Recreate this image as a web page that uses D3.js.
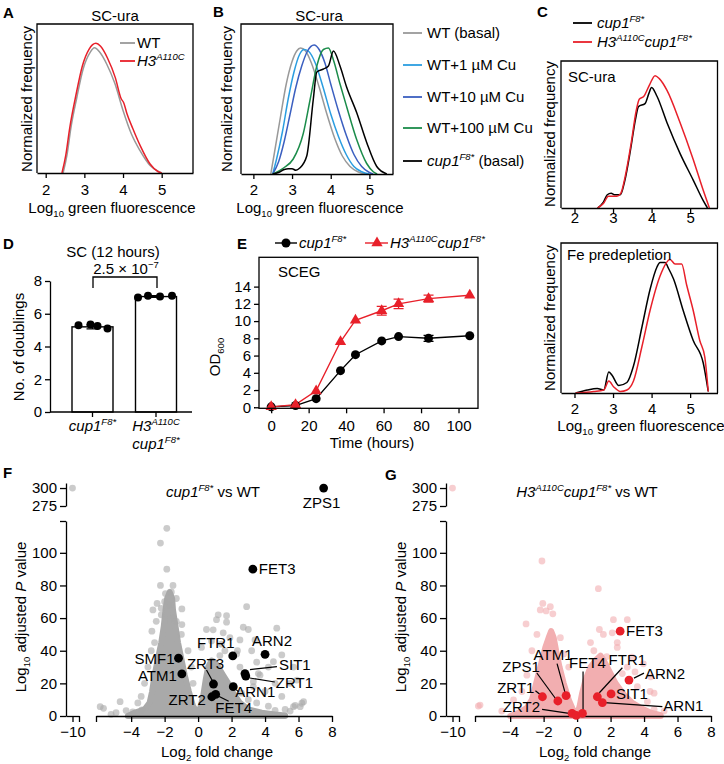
<!DOCTYPE html>
<html><head><meta charset="utf-8">
<script src="https://cdn.jsdelivr.net/npm/d3@7"></script>
<style>body{margin:0;background:#fff}svg text{font-family:"Liberation Sans",Arial,Helvetica,sans-serif}</style>
</head><body><svg id="c" width="724" height="764"></svg>
<script>
// ================= DATA =================
const fluorTicks = [2, 3, 4, 5];
// Panel A: [log10 fluorescence, normalized frequency]
const A_WT = [[2.45,0],[2.55,0.12],[2.65,0.3],[2.8,0.5],[2.97,0.7],[3.15,0.81],[3.26,0.84],[3.4,0.81],[3.58,0.73],[3.79,0.6],[4.0,0.42],[4.22,0.26],[4.44,0.15],[4.7,0.05],[4.96,0.005],[5.0,0]];
const A_H3 = [[2.42,0],[2.52,0.12],[2.62,0.3],[2.78,0.52],[2.95,0.72],[3.12,0.83],[3.3,0.87],[3.42,0.85],[3.6,0.77],[3.8,0.64],[3.95,0.5],[4.02,0.47],[4.1,0.4],[4.25,0.3],[4.45,0.18],[4.7,0.06],[4.9,0.01],[5.0,0]];
// Panel B
const B_labels = ["WT (basal)", "WT+1 µM Cu", "WT+10 µM Cu", "WT+100 µM Cu", "cup1F8* (basal)"];
const B_WT = [[2.45,0],[2.55,0.15],[2.7,0.38],[2.85,0.6],[3.0,0.75],[3.12,0.82],[3.22,0.84],[3.35,0.82],[3.5,0.74],[3.7,0.58],[3.9,0.4],[4.1,0.24],[4.3,0.12],[4.5,0.05],[4.7,0.015],[4.9,0]];
const B_1uM = [[2.5,0],[2.6,0.1],[2.75,0.28],[2.9,0.5],[3.05,0.68],[3.2,0.8],[3.31,0.83],[3.42,0.82],[3.6,0.74],[3.8,0.58],[4.0,0.4],[4.2,0.25],[4.4,0.13],[4.6,0.05],[4.8,0.015],[5.0,0]];
const B_10uM = [[2.5,0],[2.65,0.08],[2.8,0.22],[2.95,0.4],[3.1,0.58],[3.25,0.72],[3.4,0.82],[3.57,0.86],[3.7,0.83],[3.85,0.74],[4.0,0.6],[4.2,0.42],[4.4,0.26],[4.6,0.13],[4.8,0.05],[5.0,0.01],[5.1,0]];
const B_100uM = [[2.5,0],[2.78,0.04],[3.03,0.1],[3.29,0.27],[3.47,0.5],[3.64,0.72],[3.81,0.83],[3.94,0.84],[4.07,0.76],[4.24,0.6],[4.41,0.45],[4.67,0.23],[4.93,0.07],[5.1,0.015],[5.2,0]];
const B_cup1 = [[2.5,0],[2.65,0.01],[2.8,0.03],[2.9,0.035],[3.0,0.035],[3.1,0.025],[3.2,0.04],[3.38,0.12],[3.55,0.5],[3.64,0.68],[3.81,0.7],[3.94,0.72],[4.07,0.82],[4.24,0.72],[4.41,0.58],[4.67,0.41],[4.93,0.21],[5.19,0.05],[5.45,0]];
// Panel C
const C_top_cup1 = [[2.6,0],[2.75,0.04],[2.85,0.09],[2.95,0.1],[3.05,0.09],[3.19,0.09],[3.3,0.18],[3.45,0.39],[3.58,0.6],[3.66,0.69],[3.83,0.71],[3.93,0.78],[4.0,0.82],[4.14,0.76],[4.4,0.58],[4.74,0.37],[5.08,0.19],[5.34,0.05],[5.45,0]];
const C_top_h3 = [[2.6,0],[2.75,0.03],[2.88,0.08],[2.97,0.08],[3.1,0.08],[3.2,0.1],[3.32,0.22],[3.47,0.44],[3.6,0.66],[3.68,0.74],[3.8,0.76],[3.95,0.84],[4.09,0.9],[4.2,0.88],[4.4,0.8],[4.74,0.58],[5.08,0.33],[5.34,0.12],[5.5,0]];
const C_bot_cup1 = [[2.03,0],[2.33,0.02],[2.59,0.03],[2.76,0.02],[2.89,0.14],[2.97,0.12],[3.15,0.05],[3.36,0.07],[3.53,0.18],[3.75,0.44],[3.96,0.69],[4.14,0.84],[4.22,0.87],[4.35,0.87],[4.44,0.83],[4.57,0.76],[4.82,0.55],[5.08,0.35],[5.34,0.2],[5.47,0.01]];
const C_bot_h3 = [[2.03,0],[2.5,0.01],[2.76,0.02],[2.89,0.08],[3.02,0.04],[3.19,0.01],[3.36,0.02],[3.53,0.08],[3.75,0.31],[3.96,0.55],[4.22,0.78],[4.48,0.89],[4.61,0.86],[4.78,0.86],[4.91,0.72],[5.08,0.55],[5.25,0.35],[5.38,0.24],[5.47,0.01]];
// Panel D
const D_categories = ["cup1", "H3cup1"];
const D_means = [5.2, 7.05];
const D_sd = [0.12, 0.05];
const D_reps = [[5.3, 5.35, 5.25, 5.1], [7.0, 7.1, 7.05, 7.1]];
const D_yTicks = [0, 2, 4, 6, 8];
// Panel E
const E_time = [0, 13, 24, 37, 45, 59, 68, 84, 106];
const E_cup1 = [0.05, 0.2, 1.0, 4.25, 6.1, 7.7, 8.2, 8.0, 8.3];
const E_cup1_err = [0.05, 0.05, 0.1, 0.15, 0.1, 0.1, 0.1, 0.35, 0.1];
const E_h3 = [0.05, 0.3, 1.9, 7.6, 10.1, 11.2, 12.0, 12.6, 13.0];
const E_h3_err = [0.05, 0.05, 0.1, 0.15, 0.15, 0.5, 0.55, 0.4, 0.15];
const E_xTicks = [0, 20, 40, 60, 80, 100];
const E_yTicks = [0, 2, 4, 6, 8, 10, 12, 14];
// Panels F & G: volcano (log2 fold change, -log10 adj P)
const volcano_xTicks = [-4, -2, 0, 2, 4, 6, 8];
const volcano_yTicks = [0, 20, 40, 60, 80, 100];
const F_core = [[-4.2,0],[-3.8,2],[-3.2,4],[-2.9,8],[-2.75,15],[-2.6,25],[-2.4,35],[-2.2,45],[-2.05,55],[-1.95,65],[-1.85,72],[-1.7,76],[-1.55,72],[-1.5,65],[-1.35,55],[-1.2,45],[-1.0,35],[-0.8,25],[-0.55,15],[-0.3,6],[-0.05,2],[0.1,4],[0.3,12],[0.45,22],[0.6,30],[0.8,34],[1.0,33],[1.2,30],[1.5,25],[1.8,20],[2.1,14],[2.5,8],[3.0,4],[3.8,2],[4.6,1],[5.2,0.3],[5.2,0]];
const F_points = [[-1.87,115],[-2.25,106],[-1.87,90],[-2.25,80],[-1.5,80],[-1.95,75],[-1.6,76],[-2.45,69],[-1.7,68],[-2.0,70],[-1.3,72],[-2.2,66],[-2.7,65],[-0.97,65.6],[-2.2,62],[-1.5,60],[-2.5,58],[-1.3,58],[-0.97,56],[-2.76,52],[-1.0,50],[-2.6,45],[-2.8,40],[-0.6,40],[-3.0,30],[-0.4,30],[-3.2,20],[-0.3,20],[-3.4,12],[-3.6,8],[-5.85,5.7],[-5.65,4.7],[-4.66,8.8],[-4.3,3.3],[-3.36,3.7],[-4.9,2],[-3.9,2.5],[-5.2,1],[2.9,67],[1.1,59],[1.7,57.5],[1.7,61.5],[1.2,62],[2.7,54.4],[3.0,53],[4.7,53.8],[0.9,52.8],[0.5,53],[1.5,51],[2.5,46.6],[3.4,46.6],[1.9,48],[0.8,46],[1.4,44],[2.35,40],[0.2,42],[1.3,37],[1.6,40],[3.2,40],[4.5,33.3],[5.0,37.4],[4.2,30],[3.5,33],[5.7,30],[3.6,26],[5.9,22],[5.5,20],[3.3,21],[3.7,25],[2.5,30],[2.3,38],[4.6,20],[3.3,18],[4.0,15],[5.0,12],[6.1,5.7],[5.8,6.5],[5.7,5.7],[6.2,7.8],[6.3,8.8],[5.2,4],[4.6,3.5],[5.5,3],[3.0,10],[2.6,14],[3.5,8],[4.2,6],[-10,300]];
const F_genes = [["ZPS1",7.5,300],["FET3",3.27,90],["ARN2",4.0,37.8],["FTR1",2.07,36.8],["SIT1",2.8,26],["ZRT1",2.85,24.5],["ARN1",2.1,18],["ZRT3",0.92,19.6],["FET4",1.05,13.3],["ZRT2",0.82,11.8],["SMF1",-1.17,35.4],["ATM1",-0.97,25.8]];
const G_core = [[-4.0,0],[-3.5,2],[-3.0,5],[-2.7,10],[-2.5,18],[-2.3,26],[-2.1,34],[-1.9,42],[-1.7,48],[-1.55,52],[-1.4,48],[-1.25,40],[-1.05,30],[-0.8,20],[-0.5,10],[-0.25,4],[0.0,1],[0.15,6],[0.3,14],[0.5,22],[0.8,30],[1.1,34],[1.4,37],[1.6,34],[1.9,28],[2.3,20],[2.8,13],[3.3,8],[3.8,5],[4.4,2],[5.0,0.5],[5.0,0]];
const G_points = [[-2.1,95],[-2.05,69],[-1.6,67],[-2.2,65],[-1.85,64.4],[-1.45,62.6],[-3.05,56.4],[-2.4,50],[-1.0,48],[-2.7,40],[-0.8,38],[-3.0,25],[-3.3,15],[-3.8,9.8],[-5.8,6.7],[-5.9,6.1],[-4.5,3],[-0.5,30],[1.27,78],[2.17,59],[3.0,59],[1.57,50],[1.33,53],[2.1,51],[0.8,45],[1.77,36.4],[2.4,42],[3.27,36],[3.46,27],[3.96,32],[4.4,24],[4.36,15],[4.6,14],[4.2,8.8],[4.6,4],[3.0,30],[2.7,26],[3.6,18],[5.2,3],[2.4,45],[1.0,40],[-10,300]];
const G_genes = [["ZRT1",-2.07,11.8],["ZPS1",-1.15,9.2],["ATM1",-0.66,12.5],["ZRT2",-0.3,1.6],["",-0.05,0.4],["FET4",0.32,1.6],["FTR1",1.21,11.8],["SIT1",2.03,13.5],["ARN2",3.1,22],["ARN1",1.51,8.2],["FET3",2.57,52]];

// ================= LAYOUT (label placement, px offsets from dot) =================
const F_lbl = {ZPS1:{dx:-2,dy:20,a:"middle"},FET3:{dx:6,dy:5,a:"start"},ARN2:{dx:7,dy:-8,a:"middle"},FTR1:{dx:-17,dy:-8,a:"middle"},
  SIT1:{dx:34,dy:-4,a:"start",l:[5,-4,32,-7]},ZRT1:{dx:30,dy:12,a:"start",l:[4,2,29,6]},ARN1:{dx:2,dy:10,a:"start",l:[3,3,5,5]},
  ZRT3:{dx:-8,dy:-15,a:"middle",l:[-7,-14,-1,-3]},FET4:{dx:18,dy:19,a:"middle",l:[1,1,13,7]},ZRT2:{dx:-6,dy:8,a:"end"},
  SMF1:{dx:-4,dy:6,a:"end"},ATM1:{dx:-5,dy:7,a:"end"}};
const G_lbl = {ZRT1:{dx:-8,dy:-4,a:"end",l:[-7,-6,-2,-2]},ZPS1:{dx:-18,dy:-29,a:"end",l:[-21,-28,-2,-2]},ATM1:{dx:-13,dy:-36,a:"middle",l:[-9,-32,-1,-3]},
  ZRT2:{dx:-32,dy:-1,a:"end",l:[-30,-4,-3,0]},FET4:{dx:5,dy:-45,a:"middle",l:[0.6,-42,0.6,-3]},FTR1:{dx:30,dy:-32,a:"middle",l:[25,-29,2,-4]},
  SIT1:{dx:5,dy:5,a:"start"},ARN2:{dx:16,dy:-1,a:"start",l:[5,-2,15,-7]},ARN1:{dx:61,dy:8,a:"start",l:[2,0,60,4]},FET3:{dx:6,dy:5,a:"start"}};

// ================= DRAWING =================
const svg = d3.select("#c");
const FS = 15;
const RED = "#e8202a";

function rich(g, x, y, parts, o = {}) {
  const t = g.append("text").attr("x", x).attr("y", y).attr("font-size", o.size || FS)
    .attr("text-anchor", o.anchor || "start").attr("fill", o.fill || "#000");
  if (o.transform) t.attr("transform", o.transform);
  if (o.bold) t.attr("font-weight", "bold");
  let cur = 0;
  parts.forEach(p => {
    if (typeof p === "string") p = {t: p};
    const shift = p.sup ? -6 : (p.sub ? 4 : 0);
    const ts = t.append("tspan").text(p.t).attr("dy", shift - cur);
    cur = shift;
    if (p.sup || p.sub) ts.attr("font-size", p.fs || 9.5);
    if (p.it) ts.attr("font-style", "italic");
  });
  return t;
}
function vlabel(bx, cy, parts) {
  return rich(svg, 0, 0, parts, {anchor: "middle", transform: `translate(${bx},${cy}) rotate(-90)`});
}
function styleAxis(ax, keepDomain = true) {
  ax.select(".domain").attr("stroke", "#000").attr("stroke-width", 1.3);
  if (!keepDomain) ax.select(".domain").remove();
  ax.selectAll(".tick line").attr("stroke", "#000").attr("stroke-width", 1.3);
  ax.selectAll(".tick text").attr("font-size", FS).attr("fill", "#000").attr("font-family", null);
  ax.attr("font-family", null);
}
const cup1 = [{t: "cup1", it: true}, {t: "F8*", sup: true, it: true}];
const h3 = [{t: "H3", it: true}, {t: "A110C", sup: true, it: true}];
const logFluor = ["Log", {t: "10", sub: true}, " green fluorescence"];
const normFreq = ["Normalized frequency"];

// panel letters
[["A",3,18],["B",213,17],["C",537,17],["D",3,249],["E",237,249],["F",3,478],["G",385,480]].forEach(d =>
  svg.append("text").attr("x", d[1]).attr("y", d[2]).attr("font-size", 15).attr("font-weight", "bold").text(d[0]));

function hist(c) {
  const x = d3.scaleLinear().domain(c.xd).range([c.L, c.R]);
  const y = d3.scaleLinear().domain([0, 1]).range([c.B, c.T]);
  const line = d3.line().x(d => x(d[0])).y(d => y(d[1])).curve(d3.curveMonotoneX);
  c.series.forEach(s => svg.append("path").datum(s.d).attr("d", line).attr("fill", "none")
    .attr("stroke", s.c).attr("stroke-width", 1.5).attr("stroke-linejoin", "round"));
  svg.append("path").attr("d", `M${c.L},${c.B}V${c.T}H${c.R}V${c.B}`).attr("fill", "none")
    .attr("stroke", "#000").attr("stroke-width", 1.3);
  const ax = svg.append("g").attr("transform", `translate(0,${c.B})`)
    .call(d3.axisBottom(x).tickValues(fluorTicks).tickSize(5).tickSizeOuter(0).tickFormat(d3.format("d")));
  styleAxis(ax);
  ax.selectAll(".tick text").attr("y", c.lbl).attr("dy", 0);
  return {x, y};
}

// ---- Panel A ----
hist({L: 37, R: 193, T: 24, B: 173, xd: [1.775, 5.81], lbl: 22,
  series: [{d: A_WT, c: "#999"}, {d: A_H3, c: RED}]});
svg.append("text").attr("x", 115).attr("y", 21).attr("font-size", FS).attr("text-anchor", "middle").text("SC-ura");
vlabel(32, 99, normFreq);
rich(svg, 112, 213, logFluor, {anchor: "middle"});
svg.append("line").attr("x1", 120).attr("x2", 135).attr("y1", 43).attr("y2", 43).attr("stroke", "#999").attr("stroke-width", 1.8);
svg.append("line").attr("x1", 120).attr("x2", 135).attr("y1", 61).attr("y2", 61).attr("stroke", RED).attr("stroke-width", 1.8);
rich(svg, 137, 48, ["WT"]);
rich(svg, 137, 66, h3);

// ---- Panel B ----
const B_colors = ["#999", "#2b9de0", "#3b5fc0", "#1b8c4a", "#000"];
const B_data = [B_WT, B_1uM, B_10uM, B_100uM, B_cup1];
hist({L: 241, R: 393, T: 24, B: 174, xd: [1.68, 5.61], lbl: 21,
  series: B_data.map((d, i) => ({d, c: B_colors[i]}))});
svg.append("text").attr("x", 319).attr("y", 21).attr("font-size", FS).attr("text-anchor", "middle").text("SC-ura");
vlabel(232, 99, normFreq);
rich(svg, 320, 213, logFluor, {anchor: "middle"});
const B_rowY = [33, 65, 97, 128, 161];
B_labels.forEach((lab, i) => {
  svg.append("line").attr("x1", 403).attr("x2", 422).attr("y1", B_rowY[i]).attr("y2", B_rowY[i]).attr("stroke", B_colors[i]).attr("stroke-width", 1.8);
  const parts = i === 4 ? [...cup1, " (basal)"] : [lab];
  rich(svg, 427, B_rowY[i] + 5, parts);
});

// ---- Panel C ----
svg.append("line").attr("x1", 573).attr("x2", 592).attr("y1", 23).attr("y2", 23).attr("stroke", "#000").attr("stroke-width", 1.8);
svg.append("line").attr("x1", 573).attr("x2", 592).attr("y1", 42).attr("y2", 42).attr("stroke", RED).attr("stroke-width", 1.8);
rich(svg, 597, 28, cup1);
rich(svg, 597, 47, [...h3, ...cup1]);
hist({L: 561, R: 717.5, T: 61, B: 208, xd: [1.65, 5.71], lbl: 15,
  series: [{d: C_top_cup1, c: "#000"}, {d: C_top_h3, c: RED}]});
svg.append("text").attr("x", 568).attr("y", 82).attr("font-size", FS).text("SC-ura");
vlabel(555, 134, normFreq);
hist({L: 561, R: 717.5, T: 243, B: 393, xd: [1.65, 5.71], lbl: 21,
  series: [{d: C_bot_cup1, c: "#000"}, {d: C_bot_h3, c: RED}]});
svg.append("text").attr("x", 567).attr("y", 260).attr("font-size", FS).text("Fe predepletion");
vlabel(555, 318, normFreq);
rich(svg, 641, 431, logFluor, {anchor: "middle"});

// ---- Panel D ----
{
  const y = d3.scaleLinear().domain([0, 8]).range([412, 281]);
  const x = d3.scalePoint().domain(D_categories).range([92.5, 156]);
  const bw = 41;
  D_categories.forEach((c, i) => {
    svg.append("rect").attr("x", x(c) - bw / 2).attr("y", y(D_means[i])).attr("width", bw)
      .attr("height", y(0) - y(D_means[i])).attr("fill", "#fff").attr("stroke", "#000").attr("stroke-width", 1.4);
  });
  const jit = [[-14, -2, 5, 15], [-18, -8, 4, 16]];
  D_categories.forEach((c, i) => {
    D_reps[i].forEach((v, j) => svg.append("circle").attr("cx", x(c) + jit[i][j]).attr("cy", y(v)).attr("r", 4).attr("fill", "#000"));
    const lo = y(D_means[i] - D_sd[i]), hi = y(D_means[i] + D_sd[i]);
    svg.append("path").attr("d", `M${x(c)},${lo}V${hi}M${x(c) - 6},${lo}H${x(c) + 6}M${x(c) - 6},${hi}H${x(c) + 6}`)
      .attr("stroke", "#000").attr("stroke-width", 1.3).attr("fill", "none");
  });
  const ay = svg.append("g").attr("transform", "translate(50,0)")
    .call(d3.axisLeft(y).tickValues(D_yTicks).tickSize(5).tickSizeOuter(0));
  styleAxis(ay);
  svg.append("path").attr("d", `M50,412H192`).attr("stroke", "#000").attr("stroke-width", 1.3);
  D_categories.forEach(c => svg.append("line").attr("x1", x(c)).attr("x2", x(c)).attr("y1", 412).attr("y2", 417).attr("stroke", "#000").attr("stroke-width", 1.3));
  rich(svg, x("cup1"), 431, cup1, {anchor: "middle"});
  rich(svg, x("H3cup1"), 431, h3, {anchor: "middle"});
  rich(svg, x("H3cup1"), 449, cup1, {anchor: "middle"});
  svg.append("text").attr("x", 113).attr("y", 257).attr("font-size", FS).attr("text-anchor", "middle").text("SC (12 hours)");
  rich(svg, 126, 274, ["2.5 × 10", {t: "−7", sup: true}], {anchor: "middle"});
  svg.append("path").attr("d", "M93,288V277H157V288").attr("fill", "none").attr("stroke", "#000").attr("stroke-width", 1.3);
  vlabel(24, 347, ["No. of doublings"]);
}

// ---- Panel E ----
{
  const L = 259, R = 478, T = 257.3, B = 408.3;
  const x = d3.scaleLinear().domain([-6.5, 110.4]).range([L, R]);
  const y = d3.scaleLinear().domain([-0.12, 17.4]).range([B, T]);
  const line = d3.line().x(d => x(d[0])).y(d => y(d[1]));
  const blk = E_time.map((t, i) => [t, E_cup1[i], E_cup1_err[i]]);
  const red = E_time.map((t, i) => [t, E_h3[i], E_h3_err[i]]);
  [[blk, "#000"], [red, RED]].forEach(([d, col]) => {
    svg.append("path").datum(d).attr("d", line).attr("fill", "none").attr("stroke", col).attr("stroke-width", 1.4);
    d.forEach(p => {
      if (p[2] > 0.2) {
        const lo = y(p[1] - p[2]), hi = y(p[1] + p[2]), cx = x(p[0]);
        svg.append("path").attr("d", `M${cx},${lo}V${hi}M${cx - 5},${lo}H${cx + 5}M${cx - 5},${hi}H${cx + 5}`)
          .attr("stroke", col).attr("stroke-width", 1.3).attr("fill", "none");
      }
    });
  });
  blk.forEach(p => svg.append("circle").attr("cx", x(p[0])).attr("cy", y(p[1])).attr("r", 4.5).attr("fill", "#000"));
  const tri = d3.symbol().type(d3.symbolTriangle).size(55);
  red.forEach(p => svg.append("path").attr("d", tri()).attr("transform", `translate(${x(p[0])},${y(p[1])})`).attr("fill", RED));
  svg.append("rect").attr("x", L).attr("y", T).attr("width", R - L).attr("height", B - T).attr("fill", "none").attr("stroke", "#000").attr("stroke-width", 1.3);
  const ax = svg.append("g").attr("transform", `translate(0,${B})`).call(d3.axisBottom(x).tickValues(E_xTicks).tickSize(5));
  styleAxis(ax, false);
  ax.selectAll(".tick text").attr("y", 23).attr("dy", 0);
  const ay = svg.append("g").attr("transform", `translate(${L},0)`).call(d3.axisLeft(y).tickValues(E_yTicks).tickSize(5));
  styleAxis(ay, false);
  svg.append("text").attr("x", 278).attr("y", 277).attr("font-size", FS).text("SCEG");
  rich(svg, 372, 448, ["Time (hours)"], {anchor: "middle"});
  vlabel(220, 357, ["OD", {t: "600", sub: true}]);
  // legend
  svg.append("line").attr("x1", 275).attr("x2", 297).attr("y1", 243).attr("y2", 243).attr("stroke", "#000").attr("stroke-width", 1.4);
  svg.append("circle").attr("cx", 286).attr("cy", 243).attr("r", 4.5).attr("fill", "#000");
  rich(svg, 299, 248, cup1);
  svg.append("line").attr("x1", 365).attr("x2", 388).attr("y1", 243).attr("y2", 243).attr("stroke", RED).attr("stroke-width", 1.4);
  svg.append("path").attr("d", tri()).attr("transform", "translate(377,243)").attr("fill", RED);
  rich(svg, 390, 248, [...h3, ...cup1]);
}

// ---- Panels F & G ----
function volcano(c) {
  const ax0 = c.ax0;
  const xR = d3.scaleLinear().domain([-6.1, 8]).range([c.R0, c.R0 + 236]);
  const xL = d3.scaleLinear().domain([-10.9, -9.1]).range([ax0, ax0 + 13]);
  const yM = d3.scaleLinear().domain([0, 119.5]).range([716, 521]);
  const yT = d3.scaleLinear().domain([275, 307]).range([506, 483]);
  const px = d => d[0] < -8 ? xL(d[0]) : xR(d[0]);
  const py = d => d[1] > 200 ? yT(d[1]) : yM(d[1]);
  svg.append("path").datum(c.core)
    .attr("d", d3.line().x(d => xR(d[0])).y(d => yM(d[1])).curve(d3.curveLinearClosed))
    .attr("fill", c.coreFill).attr("stroke", c.coreFill).attr("stroke-width", 6).attr("stroke-linejoin", "round");
  c.points.forEach(d => svg.append("circle").attr("cx", px(d)).attr("cy", py(d)).attr("r", 3.4)
    .attr("fill", c.ptFill).attr("fill-opacity", c.ptOp));
  // axes
  const ay = svg.append("g").attr("transform", `translate(${ax0},0)`)
    .call(d3.axisLeft(yM).tickValues([...volcano_yTicks, 119.5]).tickSize(6).tickSizeOuter(0).tickFormat(d => d > 110 ? "" : d));
  styleAxis(ay);
  const ayT = svg.append("g").attr("transform", `translate(${ax0},0)`)
    .call(d3.axisLeft(yT).tickValues([275, 300]).tickSize(6).tickSizeOuter(0));
  styleAxis(ayT);
  const axR = svg.append("g").attr("transform", "translate(0,716)")
    .call(d3.axisBottom(xR).tickValues([-6.1, ...volcano_xTicks]).tickSize(6).tickSizeOuter(0).tickFormat(d => d < -6 ? "" : d3.format("d")(d)));
  styleAxis(axR);
  axR.selectAll(".tick text").attr("y", 21).attr("dy", 0);
  const axL = svg.append("g").attr("transform", "translate(0,716)")
    .call(d3.axisBottom(xL).tickValues([-10, -9.1]).tickSize(6).tickSizeOuter(0).tickFormat(d => d < -9.5 ? d3.format("d")(d) : ""));
  styleAxis(axL);
  axL.selectAll(".tick text").attr("y", 21).attr("dy", 0);
  // genes
  c.genes.forEach(g => {
    const d = [g[1], g[2]];
    const cx = px(d), cy = py(d);
    const lay = c.lbl[g[0]];
    if (lay && lay.l) svg.append("line").attr("x1", cx + lay.l[0]).attr("y1", cy + lay.l[1]).attr("x2", cx + lay.l[2]).attr("y2", cy + lay.l[3])
      .attr("stroke", "#000").attr("stroke-width", 1.2);
    svg.append("circle").attr("cx", cx).attr("cy", cy).attr("r", 4.4).attr("fill", c.hi);
    if (lay) svg.append("text").attr("x", cx + lay.dx).attr("y", cy + lay.dy).attr("font-size", FS)
      .attr("text-anchor", lay.a).text(g[0]);
  });
  rich(svg, c.titleX, 497, c.title, {anchor: "middle"});
  rich(svg, c.xtX, 757, ["Log", {t: "2", sub: true}, " fold change"], {anchor: "middle"});
  vlabel(c.ylX, 617, ["Log", {t: "10", sub: true}, " adjusted ", {t: "P", it: true}, " value"]);
}
volcano({ax0: 66, R0: 96, core: F_core, coreFill: "#a9a9a9", points: F_points, ptFill: "#a9a9a9", ptOp: 0.6,
  genes: F_genes, hi: "#000", lbl: F_lbl, titleX: 213, title: [...cup1, " vs WT"], xtX: 217, ylX: 26});
volcano({ax0: 446, R0: 475, core: G_core, coreFill: "#f2aeb0", points: G_points, ptFill: "#f2aeb0", ptOp: 0.6,
  genes: G_genes, hi: RED, lbl: G_lbl, titleX: 587, title: [...h3, ...cup1, " vs WT"], xtX: 595, ylX: 406});
</script></body></html>
